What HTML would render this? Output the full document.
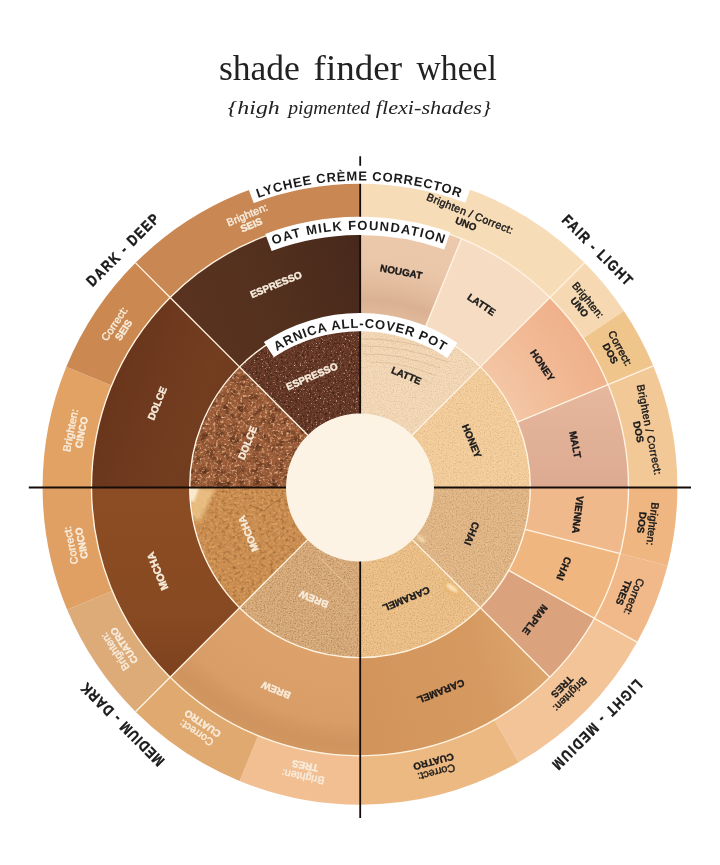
<!DOCTYPE html>
<html lang="en"><head><meta charset="utf-8"><title>shade finder wheel</title>
<style>html,body{margin:0;padding:0;background:#fff}body{width:720px;height:865px;overflow:hidden}svg{display:block}</style>
</head><body>
<svg width="720" height="865" viewBox="0 0 720 865">
<defs>
<radialGradient id="mNou" gradientUnits="userSpaceOnUse" cx="360.0" cy="487.3" r="268.5"><stop offset="0.6331" stop-color="#e2bb9c"/><stop offset="0.7002" stop-color="#dab293"/><stop offset="0.7635" stop-color="#e3bc9e"/><stop offset="0.8492" stop-color="#ebc7a9"/><stop offset="1.0000" stop-color="#ecc9ac"/></radialGradient>
<linearGradient id="mDol" gradientUnits="userSpaceOnUse" x1="95" y1="330" x2="290" y2="400"><stop offset="0" stop-color="#64321a"/><stop offset="0.35" stop-color="#6e391e"/><stop offset="0.6" stop-color="#733d20"/><stop offset="1" stop-color="#6a361d"/></linearGradient>
<linearGradient id="mEsp" gradientUnits="userSpaceOnUse" x1="170" y1="300" x2="360" y2="230"><stop offset="0" stop-color="#5a3320"/><stop offset="0.5" stop-color="#53301e"/><stop offset="1" stop-color="#46281b"/></linearGradient>
<linearGradient id="mMoc" gradientUnits="userSpaceOnUse" x1="0" y1="487" x2="0" y2="690"><stop offset="0" stop-color="#8c4c24"/><stop offset="0.6" stop-color="#884a22"/><stop offset="1" stop-color="#7c401e"/></linearGradient>
<radialGradient id="mBre" gradientUnits="userSpaceOnUse" cx="360.0" cy="487.3" r="268.5"><stop offset="0.6331" stop-color="#dda26c"/><stop offset="0.8752" stop-color="#d99d67"/><stop offset="0.9497" stop-color="#cf945f"/><stop offset="1.0000" stop-color="#d2975f"/></radialGradient>
<radialGradient id="mHon" gradientUnits="userSpaceOnUse" cx="360.0" cy="487.3" r="268.5"><stop offset="0.6331" stop-color="#f4c6a5"/><stop offset="0.8380" stop-color="#f1b994"/><stop offset="1.0000" stop-color="#efb18b"/></radialGradient>
<linearGradient id="mMal" gradientUnits="userSpaceOnUse" x1="0" y1="385" x2="0" y2="487"><stop offset="0" stop-color="#e6b89e"/><stop offset="1" stop-color="#dcaa90"/></linearGradient>
<linearGradient id="mCar" gradientUnits="userSpaceOnUse" x1="360" y1="700" x2="560" y2="640"><stop offset="0" stop-color="#d2945b"/><stop offset="0.6" stop-color="#d69a61"/><stop offset="1" stop-color="#dfa872"/></linearGradient>
<filter id="gLAT0" x="0" y="0" width="100%" height="100%" color-interpolation-filters="sRGB"><feTurbulence type="fractalNoise" baseFrequency="0.71 0.83" numOctaves="2" seed="11" result="n"/><feColorMatrix in="n" type="matrix" values="0 0 0 0 0.6 0 0 0 0 0.4 0 0 0 0 0.25 0.55 0 0 0 -0.25" result="c"/><feGaussianBlur stdDeviation="0.45"/><feComposite in2="SourceAlpha" operator="in"/></filter>
<filter id="gHON0" x="0" y="0" width="100%" height="100%" color-interpolation-filters="sRGB"><feTurbulence type="fractalNoise" baseFrequency="0.71 0.83" numOctaves="2" seed="21" result="n"/><feColorMatrix in="n" type="matrix" values="0 0 0 0 0.6 0 0 0 0 0.38 0 0 0 0 0.15 0.65 0 0 0 -0.3" result="c"/><feGaussianBlur stdDeviation="0.45"/><feComposite in2="SourceAlpha" operator="in"/></filter>
<filter id="gHON1" x="0" y="0" width="100%" height="100%" color-interpolation-filters="sRGB"><feTurbulence type="fractalNoise" baseFrequency="0.67 0.79" numOctaves="2" seed="22" result="n"/><feColorMatrix in="n" type="matrix" values="0 0 0 0 1 0 0 0 0 0.97 0 0 0 0 0.85 0.7 0 0 0 -0.34" result="c"/><feGaussianBlur stdDeviation="0.45"/><feComposite in2="SourceAlpha" operator="in"/></filter>
<filter id="gCHA0" x="0" y="0" width="100%" height="100%" color-interpolation-filters="sRGB"><feTurbulence type="fractalNoise" baseFrequency="0.71 0.83" numOctaves="2" seed="31" result="n"/><feColorMatrix in="n" type="matrix" values="0 0 0 0 0.45 0 0 0 0 0.28 0 0 0 0 0.12 0.8 0 0 0 -0.38" result="c"/><feGaussianBlur stdDeviation="0.45"/><feComposite in2="SourceAlpha" operator="in"/></filter>
<filter id="gCHA1" x="0" y="0" width="100%" height="100%" color-interpolation-filters="sRGB"><feTurbulence type="fractalNoise" baseFrequency="0.67 0.79" numOctaves="2" seed="32" result="n"/><feColorMatrix in="n" type="matrix" values="0 0 0 0 1 0 0 0 0 0.95 0 0 0 0 0.85 0.8 0 0 0 -0.4" result="c"/><feGaussianBlur stdDeviation="0.45"/><feComposite in2="SourceAlpha" operator="in"/></filter>
<filter id="gCAR0" x="0" y="0" width="100%" height="100%" color-interpolation-filters="sRGB"><feTurbulence type="fractalNoise" baseFrequency="0.71 0.83" numOctaves="2" seed="41" result="n"/><feColorMatrix in="n" type="matrix" values="0 0 0 0 0.6 0 0 0 0 0.36 0 0 0 0 0.12 0.8 0 0 0 -0.38" result="c"/><feGaussianBlur stdDeviation="0.45"/><feComposite in2="SourceAlpha" operator="in"/></filter>
<filter id="gCAR1" x="0" y="0" width="100%" height="100%" color-interpolation-filters="sRGB"><feTurbulence type="fractalNoise" baseFrequency="0.67 0.79" numOctaves="2" seed="42" result="n"/><feColorMatrix in="n" type="matrix" values="0 0 0 0 1 0 0 0 0 0.97 0 0 0 0 0.85 0.8 0 0 0 -0.4" result="c"/><feGaussianBlur stdDeviation="0.45"/><feComposite in2="SourceAlpha" operator="in"/></filter>
<filter id="gBRE0" x="0" y="0" width="100%" height="100%" color-interpolation-filters="sRGB"><feTurbulence type="fractalNoise" baseFrequency="0.61 0.73" numOctaves="2" seed="51" result="n"/><feColorMatrix in="n" type="matrix" values="0 0 0 0 0.4 0 0 0 0 0.22 0 0 0 0 0.08 0.9 0 0 0 -0.42" result="c"/><feGaussianBlur stdDeviation="0.45"/><feComposite in2="SourceAlpha" operator="in"/></filter>
<filter id="gBRE1" x="0" y="0" width="100%" height="100%" color-interpolation-filters="sRGB"><feTurbulence type="fractalNoise" baseFrequency="0.63 0.71" numOctaves="2" seed="52" result="n"/><feColorMatrix in="n" type="matrix" values="0 0 0 0 1 0 0 0 0 0.93 0 0 0 0 0.8 0.9 0 0 0 -0.42" result="c"/><feGaussianBlur stdDeviation="0.45"/><feComposite in2="SourceAlpha" operator="in"/></filter>
<filter id="gMOC0" x="0" y="0" width="100%" height="100%" color-interpolation-filters="sRGB"><feTurbulence type="fractalNoise" baseFrequency="0.27 0.33" numOctaves="3" seed="61" result="n"/><feColorMatrix in="n" type="matrix" values="0 0 0 0 0.35 0 0 0 0 0.17 0 0 0 0 0.04 0.9 0 0 0 -0.43" result="c"/><feComposite in2="SourceAlpha" operator="in"/></filter>
<filter id="gMOC1" x="0" y="0" width="100%" height="100%" color-interpolation-filters="sRGB"><feTurbulence type="fractalNoise" baseFrequency="0.37 0.43" numOctaves="3" seed="62" result="n"/><feColorMatrix in="n" type="matrix" values="0 0 0 0 1 0 0 0 0 0.85 0 0 0 0 0.6 0.9 0 0 0 -0.42" result="c"/><feComposite in2="SourceAlpha" operator="in"/></filter>
<filter id="gDOL0" x="0" y="0" width="100%" height="100%" color-interpolation-filters="sRGB"><feTurbulence type="fractalNoise" baseFrequency="0.13 0.16" numOctaves="3" seed="71" result="n"/><feColorMatrix in="n" type="matrix" values="0 0 0 0 0.22 0 0 0 0 0.09 0 0 0 0 0.03 1.5 0 0 0 -0.66" result="c"/><feComposite in2="SourceAlpha" operator="in"/></filter>
<filter id="gDOL1" x="0" y="0" width="100%" height="100%" color-interpolation-filters="sRGB"><feTurbulence type="fractalNoise" baseFrequency="0.37 0.43" numOctaves="4" seed="72" result="n"/><feColorMatrix in="n" type="matrix" values="0 0 0 0 1 0 0 0 0 0.82 0 0 0 0 0.66 2.2 0 0 0 -1.12" result="c"/><feComposite in2="SourceAlpha" operator="in"/></filter>
<filter id="gESP0" x="0" y="0" width="100%" height="100%" color-interpolation-filters="sRGB"><feTurbulence type="fractalNoise" baseFrequency="0.43 0.51" numOctaves="3" seed="81" result="n"/><feColorMatrix in="n" type="matrix" values="0 0 0 0 0.12 0 0 0 0 0.05 0 0 0 0 0.02 1.4 0 0 0 -0.6" result="c"/><feComposite in2="SourceAlpha" operator="in"/></filter>
<filter id="gESP1" x="0" y="0" width="100%" height="100%" color-interpolation-filters="sRGB"><feTurbulence type="fractalNoise" baseFrequency="0.55 0.63" numOctaves="3" seed="82" result="n"/><feColorMatrix in="n" type="matrix" values="0 0 0 0 1 0 0 0 0 0.85 0 0 0 0 0.75 3.0 0 0 0 -1.88" result="c"/><feComposite in2="SourceAlpha" operator="in"/></filter>
<filter id="bl2" x="-30%" y="-30%" width="160%" height="160%"><feGaussianBlur stdDeviation="2.2"/></filter>
<filter id="bl1" x="-30%" y="-30%" width="160%" height="160%"><feGaussianBlur stdDeviation="0.8"/></filter>
<filter id="bl5" x="-30%" y="-30%" width="160%" height="160%"><feGaussianBlur stdDeviation="5"/></filter>
<clipPath id="cMoc"><path d="M239.58,607.72 A170.3,170.3 0 0 1 189.70,487.30 L286.00,487.30 A74.0,74.0 0 0 0 307.67,539.63 Z"/></clipPath>
<clipPath id="cLat"><path d="M360.00,317.00 A170.3,170.3 0 0 1 480.42,366.88 L412.33,434.97 A74.0,74.0 0 0 0 360.00,413.30 Z"/></clipPath>
<clipPath id="cBre"><path d="M360.00,657.60 A170.3,170.3 0 0 1 239.58,607.72 L307.67,539.63 A74.0,74.0 0 0 0 360.00,561.30 Z"/></clipPath>
<clipPath id="cCar"><path d="M480.42,607.72 A170.3,170.3 0 0 1 360.00,657.60 L360.00,561.30 A74.0,74.0 0 0 0 412.33,539.63 Z"/></clipPath>
<clipPath id="cCha"><path d="M530.30,487.30 A170.3,170.3 0 0 1 480.42,607.72 L412.33,539.63 A74.0,74.0 0 0 0 434.00,487.30 Z"/></clipPath>
<clipPath id="cDol"><path d="M189.70,487.30 A170.3,170.3 0 0 1 239.58,366.88 L307.67,434.97 A74.0,74.0 0 0 0 286.00,487.30 Z"/></clipPath>
<path id="p1" d="M258.13,198.01 A306.7,306.7 0 0 1 459.85,197.31" fill="none"/>
<path id="p2" d="M273.20,244.87 A257.5,257.5 0 0 1 443.41,243.68" fill="none"/>
<path id="p3" d="M276.90,351.16 A159.5,159.5 0 0 1 443.10,351.16" fill="none"/>
</defs>
<rect width="720" height="865" fill="#fff"/>
<path d="M360.00,169.90 A317.4,317.4 0 0 1 584.44,262.86 L549.86,297.44 A268.5,268.5 0 0 0 360.00,218.80 Z" fill="#f7dcb8" />
<path d="M584.44,262.86 A317.4,317.4 0 0 1 623.91,310.96 L583.25,338.13 A268.5,268.5 0 0 0 549.86,297.44 Z" fill="#f6d9b2" />
<path d="M623.91,310.96 A317.4,317.4 0 0 1 653.24,365.84 L608.06,384.55 A268.5,268.5 0 0 0 583.25,338.13 Z" fill="#f0c58c" />
<path d="M653.24,365.84 A317.4,317.4 0 0 1 677.40,487.30 L628.50,487.30 A268.5,268.5 0 0 0 608.06,384.55 Z" fill="#f3c897" />
<path d="M677.40,487.30 A317.4,317.4 0 0 1 667.57,565.70 L620.18,553.62 A268.5,268.5 0 0 0 628.50,487.30 Z" fill="#f0b681" />
<path d="M667.57,565.70 A317.4,317.4 0 0 1 637.07,642.15 L594.38,618.29 A268.5,268.5 0 0 0 620.18,553.62 Z" fill="#f1b98a" />
<path d="M637.07,642.15 A317.4,317.4 0 0 1 518.70,762.18 L494.25,719.83 A268.5,268.5 0 0 0 594.38,618.29 Z" fill="#f3c498" />
<path d="M518.70,762.18 A317.4,317.4 0 0 1 360.00,804.70 L360.00,755.80 A268.5,268.5 0 0 0 494.25,719.83 Z" fill="#ecb982" />
<path d="M360.00,804.70 A317.4,317.4 0 0 1 239.56,780.96 L258.12,735.72 A268.5,268.5 0 0 0 360.00,755.80 Z" fill="#f2bf92" />
<path d="M239.56,780.96 A317.4,317.4 0 0 1 135.56,711.74 L170.14,677.16 A268.5,268.5 0 0 0 258.12,735.72 Z" fill="#e0a96f" />
<path d="M135.56,711.74 A317.4,317.4 0 0 1 67.19,609.79 L112.30,590.92 A268.5,268.5 0 0 0 170.14,677.16 Z" fill="#dcab78" />
<path d="M67.19,609.79 A317.4,317.4 0 0 1 42.60,487.30 L91.50,487.30 A268.5,268.5 0 0 0 112.30,590.92 Z" fill="#e0a064" />
<path d="M42.60,487.30 A317.4,317.4 0 0 1 66.34,366.86 L111.58,385.42 A268.5,268.5 0 0 0 91.50,487.30 Z" fill="#e2a264" />
<path d="M66.34,366.86 A317.4,317.4 0 0 1 135.56,262.86 L170.14,297.44 A268.5,268.5 0 0 0 111.58,385.42 Z" fill="#cb8851" />
<path d="M135.56,262.86 A317.4,317.4 0 0 1 360.00,169.90 L360.00,218.80 A268.5,268.5 0 0 0 170.14,297.44 Z" fill="#c98754" />
<path d="M360.00,218.80 A268.5,268.5 0 0 1 461.45,238.70 L424.35,329.62 A170.3,170.3 0 0 0 360.00,317.00 Z" fill="url(#mNou)" />
<path d="M461.45,238.70 A268.5,268.5 0 0 1 549.86,297.44 L480.42,366.88 A170.3,170.3 0 0 0 424.35,329.62 Z" fill="#f5dcc2" />
<path d="M549.86,297.44 A268.5,268.5 0 0 1 608.06,384.55 L517.34,422.13 A170.3,170.3 0 0 0 480.42,366.88 Z" fill="url(#mHon)" />
<path d="M608.06,384.55 A268.5,268.5 0 0 1 628.50,487.30 L530.30,487.30 A170.3,170.3 0 0 0 517.34,422.13 Z" fill="url(#mMal)" />
<path d="M628.50,487.30 A268.5,268.5 0 0 1 620.18,553.62 L525.02,529.36 A170.3,170.3 0 0 0 530.30,487.30 Z" fill="#f0b98c" />
<path d="M620.18,553.62 A268.5,268.5 0 0 1 594.38,618.29 L508.66,570.38 A170.3,170.3 0 0 0 525.02,529.36 Z" fill="#f0b67f" />
<path d="M594.38,618.29 A268.5,268.5 0 0 1 549.86,677.16 L480.42,607.72 A170.3,170.3 0 0 0 508.66,570.38 Z" fill="#dba27e" />
<path d="M549.86,677.16 A268.5,268.5 0 0 1 360.00,755.80 L360.00,657.60 A170.3,170.3 0 0 0 480.42,607.72 Z" fill="url(#mCar)" />
<path d="M360.00,755.80 A268.5,268.5 0 0 1 170.14,677.16 L239.58,607.72 A170.3,170.3 0 0 0 360.00,657.60 Z" fill="url(#mBre)" />
<path d="M170.14,677.16 A268.5,268.5 0 0 1 91.50,487.30 L189.70,487.30 A170.3,170.3 0 0 0 239.58,607.72 Z" fill="url(#mMoc)" />
<path d="M91.50,487.30 A268.5,268.5 0 0 1 170.14,297.44 L239.58,366.88 A170.3,170.3 0 0 0 189.70,487.30 Z" fill="url(#mDol)" />
<path d="M170.14,297.44 A268.5,268.5 0 0 1 360.00,218.80 L360.00,317.00 A170.3,170.3 0 0 0 239.58,366.88 Z" fill="url(#mEsp)" />
<path d="M360.00,317.00 A170.3,170.3 0 0 1 480.42,366.88 L411.62,435.68 A73.0,73.0 0 0 0 360.00,414.30 Z" fill="#f4dab9" />
<path d="M480.42,366.88 A170.3,170.3 0 0 1 530.30,487.30 L433.00,487.30 A73.0,73.0 0 0 0 411.62,435.68 Z" fill="#f4ce9d" />
<path d="M530.30,487.30 A170.3,170.3 0 0 1 480.42,607.72 L411.62,538.92 A73.0,73.0 0 0 0 433.00,487.30 Z" fill="#e2b787" />
<path d="M480.42,607.72 A170.3,170.3 0 0 1 360.00,657.60 L360.00,560.30 A73.0,73.0 0 0 0 411.62,538.92 Z" fill="#ecc088" />
<path d="M360.00,657.60 A170.3,170.3 0 0 1 239.58,607.72 L308.38,538.92 A73.0,73.0 0 0 0 360.00,560.30 Z" fill="#d7a978" />
<path d="M239.58,607.72 A170.3,170.3 0 0 1 189.70,487.30 L287.00,487.30 A73.0,73.0 0 0 0 308.38,538.92 Z" fill="#cb8d50" />
<path d="M189.70,487.30 A170.3,170.3 0 0 1 239.58,366.88 L308.38,435.68 A73.0,73.0 0 0 0 287.00,487.30 Z" fill="#9a5c38" />
<path d="M239.58,366.88 A170.3,170.3 0 0 1 360.00,317.00 L360.00,414.30 A73.0,73.0 0 0 0 308.38,435.68 Z" fill="#6b3c2a" />
<path d="M360.00,317.00 A170.3,170.3 0 0 1 480.42,366.88 L411.62,435.68 A73.0,73.0 0 0 0 360.00,414.30 Z" fill="#000" filter="url(#gLAT0)"/>
<path d="M480.42,366.88 A170.3,170.3 0 0 1 530.30,487.30 L433.00,487.30 A73.0,73.0 0 0 0 411.62,435.68 Z" fill="#000" filter="url(#gHON0)"/>
<path d="M480.42,366.88 A170.3,170.3 0 0 1 530.30,487.30 L433.00,487.30 A73.0,73.0 0 0 0 411.62,435.68 Z" fill="#000" filter="url(#gHON1)"/>
<path d="M530.30,487.30 A170.3,170.3 0 0 1 480.42,607.72 L411.62,538.92 A73.0,73.0 0 0 0 433.00,487.30 Z" fill="#000" filter="url(#gCHA0)"/>
<path d="M530.30,487.30 A170.3,170.3 0 0 1 480.42,607.72 L411.62,538.92 A73.0,73.0 0 0 0 433.00,487.30 Z" fill="#000" filter="url(#gCHA1)"/>
<path d="M480.42,607.72 A170.3,170.3 0 0 1 360.00,657.60 L360.00,560.30 A73.0,73.0 0 0 0 411.62,538.92 Z" fill="#000" filter="url(#gCAR0)"/>
<path d="M480.42,607.72 A170.3,170.3 0 0 1 360.00,657.60 L360.00,560.30 A73.0,73.0 0 0 0 411.62,538.92 Z" fill="#000" filter="url(#gCAR1)"/>
<path d="M360.00,657.60 A170.3,170.3 0 0 1 239.58,607.72 L308.38,538.92 A73.0,73.0 0 0 0 360.00,560.30 Z" fill="#000" filter="url(#gBRE0)"/>
<path d="M360.00,657.60 A170.3,170.3 0 0 1 239.58,607.72 L308.38,538.92 A73.0,73.0 0 0 0 360.00,560.30 Z" fill="#000" filter="url(#gBRE1)"/>
<path d="M239.58,607.72 A170.3,170.3 0 0 1 189.70,487.30 L287.00,487.30 A73.0,73.0 0 0 0 308.38,538.92 Z" fill="#000" filter="url(#gMOC0)"/>
<path d="M239.58,607.72 A170.3,170.3 0 0 1 189.70,487.30 L287.00,487.30 A73.0,73.0 0 0 0 308.38,538.92 Z" fill="#000" filter="url(#gMOC1)"/>
<path d="M189.70,487.30 A170.3,170.3 0 0 1 239.58,366.88 L308.38,435.68 A73.0,73.0 0 0 0 287.00,487.30 Z" fill="#000" filter="url(#gDOL0)"/>
<path d="M189.70,487.30 A170.3,170.3 0 0 1 239.58,366.88 L308.38,435.68 A73.0,73.0 0 0 0 287.00,487.30 Z" fill="#000" filter="url(#gDOL1)"/>
<path d="M239.58,366.88 A170.3,170.3 0 0 1 360.00,317.00 L360.00,414.30 A73.0,73.0 0 0 0 308.38,435.68 Z" fill="#000" filter="url(#gESP0)"/>
<path d="M239.58,366.88 A170.3,170.3 0 0 1 360.00,317.00 L360.00,414.30 A73.0,73.0 0 0 0 308.38,435.68 Z" fill="#000" filter="url(#gESP1)"/>
<g clip-path="url(#cMoc)"><polygon points="188,488 216,488 200,522 190,516" fill="#f0c98e" opacity="0.8" filter="url(#bl2)"/><polygon points="188,488 199,488 194,502 189,500" fill="#fbefd6" opacity="0.9" filter="url(#bl1)"/><path d="M250,505 l14,6 l8,-7 l12,-8" stroke="#8a5424" stroke-width="0.9" fill="none" opacity="0.55"/><path d="M222,548 l10,-10 l9,-6" stroke="#8a5424" stroke-width="0.8" fill="none" opacity="0.4"/></g>
<g clip-path="url(#cLat)" stroke="#c9a27a" fill="none" opacity="0.55"><path d="M362,339 Q400,338 440,352" stroke-width="0.8"/><path d="M362,346 Q400,345 448,362" stroke-width="0.7"/><path d="M362,354 Q400,353 440,368" stroke-width="0.7"/><path d="M370,362 Q405,362 436,376" stroke-width="0.6"/><path d="M392,372 Q415,374 432,384" stroke-width="0.6"/></g>
<g clip-path="url(#cBre)" stroke="#ecc79c" fill="none" opacity="0.6"><path d="M318,556 L352,590" stroke-width="1.1"/><path d="M300,566 L350,612" stroke-width="0.9"/><path d="M326,552 L356,578" stroke-width="0.8"/></g>
<g clip-path="url(#cCar)"><ellipse cx="452" cy="589" rx="11" ry="5" transform="rotate(35 452 589)" fill="#e9b060" opacity="0.55" filter="url(#bl2)"/><ellipse cx="452" cy="588" rx="7" ry="2.6" transform="rotate(35 452 588)" fill="#fdecc8" opacity="0.85" filter="url(#bl1)"/></g>
<g clip-path="url(#cCha)"><ellipse cx="421" cy="539" rx="5" ry="2.5" transform="rotate(40 421 539)" fill="#fbe5bf" opacity="0.7" filter="url(#bl1)"/></g>
<circle cx="360.0" cy="487.3" r="268.5" fill="none" stroke="#fff3e2" stroke-width="1.35"/>
<circle cx="360.0" cy="487.3" r="170.3" fill="none" stroke="#fff3e2" stroke-width="1.35"/>
<line x1="412.33" y1="434.97" x2="480.42" y2="366.88" stroke="#fff3e2" stroke-width="1.35"/>
<line x1="412.33" y1="539.63" x2="480.42" y2="607.72" stroke="#fff3e2" stroke-width="1.35"/>
<line x1="307.67" y1="539.63" x2="239.58" y2="607.72" stroke="#fff3e2" stroke-width="1.35"/>
<line x1="307.67" y1="434.97" x2="239.58" y2="366.88" stroke="#fff3e2" stroke-width="1.35"/>
<line x1="424.35" y1="329.62" x2="461.45" y2="238.70" stroke="#fff3e2" stroke-width="1.35"/>
<line x1="480.42" y1="366.88" x2="549.86" y2="297.44" stroke="#fff3e2" stroke-width="1.35"/>
<line x1="517.34" y1="422.13" x2="608.06" y2="384.55" stroke="#fff3e2" stroke-width="1.35"/>
<line x1="525.02" y1="529.36" x2="620.18" y2="553.62" stroke="#fff3e2" stroke-width="1.35"/>
<line x1="508.66" y1="570.38" x2="594.38" y2="618.29" stroke="#fff3e2" stroke-width="1.35"/>
<line x1="480.42" y1="607.72" x2="549.86" y2="677.16" stroke="#fff3e2" stroke-width="1.35"/>
<line x1="239.58" y1="607.72" x2="170.14" y2="677.16" stroke="#fff3e2" stroke-width="1.35"/>
<line x1="239.58" y1="366.88" x2="170.14" y2="297.44" stroke="#fff3e2" stroke-width="1.35"/>
<line x1="549.86" y1="297.44" x2="584.44" y2="262.86" stroke="#fff3e2" stroke-width="1.35"/>
<line x1="608.06" y1="384.55" x2="653.24" y2="365.84" stroke="#fff3e2" stroke-width="1.35"/>
<line x1="594.38" y1="618.29" x2="637.07" y2="642.15" stroke="#fff3e2" stroke-width="1.35"/>
<line x1="170.14" y1="677.16" x2="135.56" y2="711.74" stroke="#fff3e2" stroke-width="1.35"/>
<line x1="170.14" y1="297.44" x2="135.56" y2="262.86" stroke="#fff3e2" stroke-width="1.35"/>
<line x1="360.2" y1="156.3" x2="360.2" y2="818" stroke="#140c08" stroke-width="1.8"/>
<line x1="28.8" y1="487.5" x2="691" y2="487.5" stroke="#140c08" stroke-width="1.8"/>
<circle cx="360.0" cy="487.6" r="74.0" fill="#fcf3e4"/>
<text x="406.30" y="375.51" transform="rotate(22.50 406.30 375.51)" text-anchor="middle" dominant-baseline="central" font-family="'Liberation Sans', sans-serif" font-size="10" font-weight="bold" letter-spacing="0" fill="#1a1a1a" stroke="#1a1a1a" stroke-width="0.35">LATTE</text>
<text x="471.79" y="441.00" transform="rotate(67.50 471.79 441.00)" text-anchor="middle" dominant-baseline="central" font-family="'Liberation Sans', sans-serif" font-size="10" font-weight="bold" letter-spacing="0" fill="#1a1a1a" stroke="#1a1a1a" stroke-width="0.35">HONEY</text>
<text x="471.79" y="533.60" transform="rotate(112.50 471.79 533.60)" text-anchor="middle" dominant-baseline="central" font-family="'Liberation Sans', sans-serif" font-size="10" font-weight="bold" letter-spacing="0" fill="#1a1a1a" stroke="#1a1a1a" stroke-width="0.35">CHAI</text>
<text x="406.30" y="599.09" transform="rotate(157.50 406.30 599.09)" text-anchor="middle" dominant-baseline="central" font-family="'Liberation Sans', sans-serif" font-size="10" font-weight="bold" letter-spacing="0" fill="#1a1a1a" stroke="#1a1a1a" stroke-width="0.35">CARAMEL</text>
<text x="313.70" y="599.09" transform="rotate(202.50 313.70 599.09)" text-anchor="middle" dominant-baseline="central" font-family="'Liberation Sans', sans-serif" font-size="10" font-weight="bold" letter-spacing="0" fill="#f8ecdc" stroke="#f8ecdc" stroke-width="0.4">BREW</text>
<text x="248.21" y="533.60" transform="rotate(247.50 248.21 533.60)" text-anchor="middle" dominant-baseline="central" font-family="'Liberation Sans', sans-serif" font-size="10" font-weight="bold" letter-spacing="0" fill="#f8ecdc" stroke="#f8ecdc" stroke-width="0.4">MOCHA</text>
<text x="247.50" y="442.76" transform="rotate(291.60 247.50 442.76)" text-anchor="middle" dominant-baseline="central" font-family="'Liberation Sans', sans-serif" font-size="10" font-weight="bold" letter-spacing="0" fill="#f8ecdc" stroke="#f8ecdc" stroke-width="0.4">DOLCE</text>
<text x="311.95" y="376.25" transform="rotate(336.60 311.95 376.25)" text-anchor="middle" dominant-baseline="central" font-family="'Liberation Sans', sans-serif" font-size="10" font-weight="bold" letter-spacing="0" fill="#f8ecdc" stroke="#f8ecdc" stroke-width="0.4">ESPRESSO</text>
<text x="401.13" y="271.69" transform="rotate(10.80 401.13 271.69)" text-anchor="middle" dominant-baseline="central" font-family="'Liberation Sans', sans-serif" font-size="10" font-weight="bold" letter-spacing="0" fill="#1a1a1a" stroke="#1a1a1a" stroke-width="0.35">NOUGAT</text>
<text x="481.47" y="304.47" transform="rotate(33.60 481.47 304.47)" text-anchor="middle" dominant-baseline="central" font-family="'Liberation Sans', sans-serif" font-size="10" font-weight="bold" letter-spacing="0" fill="#1a1a1a" stroke="#1a1a1a" stroke-width="0.35">LATTE</text>
<text x="542.51" y="365.35" transform="rotate(56.25 542.51 365.35)" text-anchor="middle" dominant-baseline="central" font-family="'Liberation Sans', sans-serif" font-size="10" font-weight="bold" letter-spacing="0" fill="#1a1a1a" stroke="#1a1a1a" stroke-width="0.35">HONEY</text>
<text x="575.28" y="444.48" transform="rotate(78.75 575.28 444.48)" text-anchor="middle" dominant-baseline="central" font-family="'Liberation Sans', sans-serif" font-size="10" font-weight="bold" letter-spacing="0" fill="#1a1a1a" stroke="#1a1a1a" stroke-width="0.35">MALT</text>
<text x="577.79" y="514.62" transform="rotate(97.15 577.79 514.62)" text-anchor="middle" dominant-baseline="central" font-family="'Liberation Sans', sans-serif" font-size="10" font-weight="bold" letter-spacing="0" fill="#1a1a1a" stroke="#1a1a1a" stroke-width="0.35">VIENNA</text>
<text x="563.87" y="568.64" transform="rotate(111.75 563.87 568.64)" text-anchor="middle" dominant-baseline="central" font-family="'Liberation Sans', sans-serif" font-size="10" font-weight="bold" letter-spacing="0" fill="#1a1a1a" stroke="#1a1a1a" stroke-width="0.35">CHAI</text>
<text x="535.07" y="619.70" transform="rotate(127.10 535.07 619.70)" text-anchor="middle" dominant-baseline="central" font-family="'Liberation Sans', sans-serif" font-size="10" font-weight="bold" letter-spacing="0" fill="#1a1a1a" stroke="#1a1a1a" stroke-width="0.35">MAPLE</text>
<text x="440.80" y="691.39" transform="rotate(158.40 440.80 691.39)" text-anchor="middle" dominant-baseline="central" font-family="'Liberation Sans', sans-serif" font-size="10" font-weight="bold" letter-spacing="0" fill="#1a1a1a" stroke="#1a1a1a" stroke-width="0.35">CARAMEL</text>
<text x="276.00" y="690.09" transform="rotate(202.50 276.00 690.09)" text-anchor="middle" dominant-baseline="central" font-family="'Liberation Sans', sans-serif" font-size="10" font-weight="bold" letter-spacing="0" fill="#f8ecdc" stroke="#f8ecdc" stroke-width="0.4">BREW</text>
<text x="157.21" y="571.30" transform="rotate(247.50 157.21 571.30)" text-anchor="middle" dominant-baseline="central" font-family="'Liberation Sans', sans-serif" font-size="10.6" font-weight="bold" letter-spacing="0" fill="#f8ecdc" stroke="#f8ecdc" stroke-width="0.4">MOCHA</text>
<text x="157.21" y="403.30" transform="rotate(292.50 157.21 403.30)" text-anchor="middle" dominant-baseline="central" font-family="'Liberation Sans', sans-serif" font-size="10" font-weight="bold" letter-spacing="0" fill="#f8ecdc" stroke="#f8ecdc" stroke-width="0.4">DOLCE</text>
<text x="276.00" y="284.51" transform="rotate(337.50 276.00 284.51)" text-anchor="middle" dominant-baseline="central" font-family="'Liberation Sans', sans-serif" font-size="10" font-weight="bold" letter-spacing="0" fill="#f8ecdc" stroke="#f8ecdc" stroke-width="0.4">ESPRESSO</text>
<text x="470.14" y="213.31" transform="rotate(21.90 470.14 213.31)" text-anchor="middle" dominant-baseline="central" font-family="'Liberation Sans', sans-serif" font-size="10.7" font-weight="normal" letter-spacing="0.3" fill="#1a1a1a" stroke="#1a1a1a" stroke-width="0.4">Brighten / Correct:</text>
<text x="465.93" y="223.79" transform="rotate(21.90 465.93 223.79)" text-anchor="middle" dominant-baseline="central" font-family="'Liberation Sans', sans-serif" font-size="9.9" font-weight="bold" letter-spacing="0" fill="#1a1a1a" stroke="#1a1a1a" stroke-width="0.35">UNO</text>
<text x="588.27" y="299.96" transform="rotate(50.62 588.27 299.96)" text-anchor="middle" dominant-baseline="central" font-family="'Liberation Sans', sans-serif" font-size="10.7" font-weight="normal" letter-spacing="0.05" fill="#1a1a1a" stroke="#1a1a1a" stroke-width="0.4">Brighten:</text>
<text x="579.53" y="307.13" transform="rotate(50.62 579.53 307.13)" text-anchor="middle" dominant-baseline="central" font-family="'Liberation Sans', sans-serif" font-size="9.9" font-weight="bold" letter-spacing="0" fill="#1a1a1a" stroke="#1a1a1a" stroke-width="0.35">UNO</text>
<text x="620.43" y="348.10" transform="rotate(61.88 620.43 348.10)" text-anchor="middle" dominant-baseline="central" font-family="'Liberation Sans', sans-serif" font-size="10.7" font-weight="normal" letter-spacing="0.05" fill="#1a1a1a" stroke="#1a1a1a" stroke-width="0.4">Correct:</text>
<text x="610.47" y="353.42" transform="rotate(61.88 610.47 353.42)" text-anchor="middle" dominant-baseline="central" font-family="'Liberation Sans', sans-serif" font-size="9.9" font-weight="bold" letter-spacing="0" fill="#1a1a1a" stroke="#1a1a1a" stroke-width="0.35">DOS</text>
<text x="649.63" y="429.69" transform="rotate(78.75 649.63 429.69)" text-anchor="middle" dominant-baseline="central" font-family="'Liberation Sans', sans-serif" font-size="10.7" font-weight="normal" letter-spacing="0.3" fill="#1a1a1a" stroke="#1a1a1a" stroke-width="0.4">Brighten / Correct:</text>
<text x="638.54" y="431.89" transform="rotate(78.75 638.54 431.89)" text-anchor="middle" dominant-baseline="central" font-family="'Liberation Sans', sans-serif" font-size="9.9" font-weight="bold" letter-spacing="0" fill="#1a1a1a" stroke="#1a1a1a" stroke-width="0.35">DOS</text>
<text x="653.00" y="524.06" transform="rotate(97.15 653.00 524.06)" text-anchor="middle" dominant-baseline="central" font-family="'Liberation Sans', sans-serif" font-size="10.7" font-weight="normal" letter-spacing="0.05" fill="#1a1a1a" stroke="#1a1a1a" stroke-width="0.4">Brighten:</text>
<text x="641.79" y="522.65" transform="rotate(97.15 641.79 522.65)" text-anchor="middle" dominant-baseline="central" font-family="'Liberation Sans', sans-serif" font-size="9.9" font-weight="bold" letter-spacing="0" fill="#1a1a1a" stroke="#1a1a1a" stroke-width="0.35">DOS</text>
<text x="634.28" y="596.73" transform="rotate(111.75 634.28 596.73)" text-anchor="middle" dominant-baseline="central" font-family="'Liberation Sans', sans-serif" font-size="10.7" font-weight="normal" letter-spacing="0.05" fill="#1a1a1a" stroke="#1a1a1a" stroke-width="0.4">Correct:</text>
<text x="623.78" y="592.54" transform="rotate(111.75 623.78 592.54)" text-anchor="middle" dominant-baseline="central" font-family="'Liberation Sans', sans-serif" font-size="9.9" font-weight="bold" letter-spacing="0" fill="#1a1a1a" stroke="#1a1a1a" stroke-width="0.35">TRES</text>
<text x="570.26" y="694.65" transform="rotate(134.60 570.26 694.65)" text-anchor="middle" dominant-baseline="central" font-family="'Liberation Sans', sans-serif" font-size="10.7" font-weight="normal" letter-spacing="0.05" fill="#1a1a1a" stroke="#1a1a1a" stroke-width="0.4">Brighten:</text>
<text x="562.22" y="686.71" transform="rotate(134.60 562.22 686.71)" text-anchor="middle" dominant-baseline="central" font-family="'Liberation Sans', sans-serif" font-size="9.9" font-weight="bold" letter-spacing="0" fill="#1a1a1a" stroke="#1a1a1a" stroke-width="0.35">TRES</text>
<text x="436.43" y="772.54" transform="rotate(165.00 436.43 772.54)" text-anchor="middle" dominant-baseline="central" font-family="'Liberation Sans', sans-serif" font-size="10.7" font-weight="normal" letter-spacing="0.05" fill="#1a1a1a" stroke="#1a1a1a" stroke-width="0.4">Correct:</text>
<text x="433.50" y="761.62" transform="rotate(165.00 433.50 761.62)" text-anchor="middle" dominant-baseline="central" font-family="'Liberation Sans', sans-serif" font-size="9.9" font-weight="bold" letter-spacing="0" fill="#1a1a1a" stroke="#1a1a1a" stroke-width="0.35">CUATRO</text>
<text x="302.90" y="777.03" transform="rotate(191.15 302.90 777.03)" text-anchor="middle" dominant-baseline="central" font-family="'Liberation Sans', sans-serif" font-size="10.7" font-weight="normal" letter-spacing="0.05" fill="#f8ecdc" stroke="#f8ecdc" stroke-width="0.4">Brighten:</text>
<text x="305.08" y="765.94" transform="rotate(191.15 305.08 765.94)" text-anchor="middle" dominant-baseline="central" font-family="'Liberation Sans', sans-serif" font-size="9.9" font-weight="bold" letter-spacing="0" fill="#f8ecdc" stroke="#f8ecdc" stroke-width="0.4">TRES</text>
<text x="196.37" y="733.12" transform="rotate(213.65 196.37 733.12)" text-anchor="middle" dominant-baseline="central" font-family="'Liberation Sans', sans-serif" font-size="10.7" font-weight="normal" letter-spacing="0.05" fill="#f8ecdc" stroke="#f8ecdc" stroke-width="0.4">Correct:</text>
<text x="202.63" y="723.71" transform="rotate(213.65 202.63 723.71)" text-anchor="middle" dominant-baseline="central" font-family="'Liberation Sans', sans-serif" font-size="9.9" font-weight="bold" letter-spacing="0" fill="#f8ecdc" stroke="#f8ecdc" stroke-width="0.4">CUATRO</text>
<text x="114.75" y="651.79" transform="rotate(236.15 114.75 651.79)" text-anchor="middle" dominant-baseline="central" font-family="'Liberation Sans', sans-serif" font-size="10.7" font-weight="normal" letter-spacing="0.05" fill="#f8ecdc" stroke="#f8ecdc" stroke-width="0.4">Brighten:</text>
<text x="124.14" y="645.49" transform="rotate(236.15 124.14 645.49)" text-anchor="middle" dominant-baseline="central" font-family="'Liberation Sans', sans-serif" font-size="9.9" font-weight="bold" letter-spacing="0" fill="#f8ecdc" stroke="#f8ecdc" stroke-width="0.4">CUATRO</text>
<text x="70.48" y="545.42" transform="rotate(258.65 70.48 545.42)" text-anchor="middle" dominant-baseline="central" font-family="'Liberation Sans', sans-serif" font-size="10.7" font-weight="normal" letter-spacing="0.05" fill="#f8ecdc" stroke="#f8ecdc" stroke-width="0.4">Correct:</text>
<text x="81.55" y="543.19" transform="rotate(258.65 81.55 543.19)" text-anchor="middle" dominant-baseline="central" font-family="'Liberation Sans', sans-serif" font-size="9.9" font-weight="bold" letter-spacing="0" fill="#f8ecdc" stroke="#f8ecdc" stroke-width="0.4">CINCO</text>
<text x="70.27" y="430.20" transform="rotate(281.15 70.27 430.20)" text-anchor="middle" dominant-baseline="central" font-family="'Liberation Sans', sans-serif" font-size="10.7" font-weight="normal" letter-spacing="0.05" fill="#f8ecdc" stroke="#f8ecdc" stroke-width="0.4">Brighten:</text>
<text x="81.36" y="432.38" transform="rotate(281.15 81.36 432.38)" text-anchor="middle" dominant-baseline="central" font-family="'Liberation Sans', sans-serif" font-size="9.9" font-weight="bold" letter-spacing="0" fill="#f8ecdc" stroke="#f8ecdc" stroke-width="0.4">CINCO</text>
<text x="114.18" y="323.67" transform="rotate(303.65 114.18 323.67)" text-anchor="middle" dominant-baseline="central" font-family="'Liberation Sans', sans-serif" font-size="10.7" font-weight="normal" letter-spacing="0.05" fill="#f8ecdc" stroke="#f8ecdc" stroke-width="0.4">Correct:</text>
<text x="123.59" y="329.93" transform="rotate(303.65 123.59 329.93)" text-anchor="middle" dominant-baseline="central" font-family="'Liberation Sans', sans-serif" font-size="9.9" font-weight="bold" letter-spacing="0" fill="#f8ecdc" stroke="#f8ecdc" stroke-width="0.4">SEIS</text>
<text x="246.99" y="214.48" transform="rotate(337.50 246.99 214.48)" text-anchor="middle" dominant-baseline="central" font-family="'Liberation Sans', sans-serif" font-size="10.7" font-weight="normal" letter-spacing="0.05" fill="#f8ecdc" stroke="#f8ecdc" stroke-width="0.4">Brighten:</text>
<text x="251.32" y="224.92" transform="rotate(337.50 251.32 224.92)" text-anchor="middle" dominant-baseline="central" font-family="'Liberation Sans', sans-serif" font-size="9.9" font-weight="bold" letter-spacing="0" fill="#f8ecdc" stroke="#f8ecdc" stroke-width="0.4">SEIS</text>
<path d="M247.37,186.07 A321.6,321.6 0 0 1 471.57,185.67 L465.29,202.65 A303.5,303.5 0 0 0 253.71,203.02 Z" fill="#ffffff" />
<text font-family="'Liberation Sans', sans-serif" font-size="13" font-weight="bold" fill="#1a1a1a"><textPath href="#p1" startOffset="0" textLength="205.6" lengthAdjust="spacing">LYCHEE CRÈME CORRECTOR</textPath></text>
<path d="M265.27,233.93 A270.5,270.5 0 0 1 450.29,232.32 L444.22,249.47 A252.3,252.3 0 0 0 271.64,250.98 Z" fill="#ffffff" />
<text font-family="'Liberation Sans', sans-serif" font-size="13" font-weight="bold" fill="#1a1a1a"><textPath href="#p2" startOffset="0" textLength="173.5" lengthAdjust="spacing">OAT MILK FOUNDATION</textPath></text>
<path d="M263.85,342.04 A174.2,174.2 0 0 1 457.41,342.88 L447.23,357.97 A156,156 0 0 0 273.90,357.21 Z" fill="#ffffff" />
<text font-family="'Liberation Sans', sans-serif" font-size="13" font-weight="bold" fill="#1a1a1a"><textPath href="#p3" startOffset="0" textLength="174.8" lengthAdjust="spacing">ARNICA ALL-COVER POT</textPath></text>
<text transform="translate(126.30 253.60) rotate(315) scale(0.82 1)" x="-58.23" y="0" font-family="'Liberation Sans', sans-serif" font-size="15" font-weight="bold" fill="#1a1a1a" stroke="#1a1a1a" stroke-width="0.45" textLength="116.46" lengthAdjust="spacing">DARK - DEEP</text>
<text transform="translate(593.70 253.60) rotate(45) scale(0.82 1)" x="-56.40" y="0" font-family="'Liberation Sans', sans-serif" font-size="15" font-weight="bold" fill="#1a1a1a" stroke="#1a1a1a" stroke-width="0.45" textLength="112.80" lengthAdjust="spacing">FAIR - LIGHT</text>
<text transform="translate(593.70 721.00) rotate(135) scale(0.82 1)" x="-73.17" y="0" font-family="'Liberation Sans', sans-serif" font-size="15" font-weight="bold" fill="#1a1a1a" stroke="#1a1a1a" stroke-width="0.45" textLength="146.34" lengthAdjust="spacing">LIGHT - MEDIUM</text>
<text transform="translate(126.30 721.00) rotate(225) scale(0.82 1)" x="-67.38" y="0" font-family="'Liberation Sans', sans-serif" font-size="15" font-weight="bold" fill="#1a1a1a" stroke="#1a1a1a" stroke-width="0.45" textLength="134.76" lengthAdjust="spacing">MEDIUM - DARK</text>
<text y="79.6" font-family="'Liberation Serif', serif" font-size="36.6" fill="#222"><tspan x="218.9" textLength="81.0" lengthAdjust="spacingAndGlyphs">shade</tspan> <tspan x="313.6" textLength="88.4" lengthAdjust="spacingAndGlyphs">finder</tspan> <tspan x="416.6" textLength="80.2" lengthAdjust="spacingAndGlyphs">wheel</tspan></text>
<text y="113.6" font-family="'Liberation Serif', serif" font-size="18.5" font-style="italic" fill="#222"><tspan x="227.8" textLength="52.0" lengthAdjust="spacingAndGlyphs">{high</tspan> <tspan x="288.2" textLength="82.0" lengthAdjust="spacingAndGlyphs">pigmented</tspan> <tspan x="375.8" textLength="115.0" lengthAdjust="spacingAndGlyphs">flexi-shades}</tspan></text>
</svg>
</body></html>
